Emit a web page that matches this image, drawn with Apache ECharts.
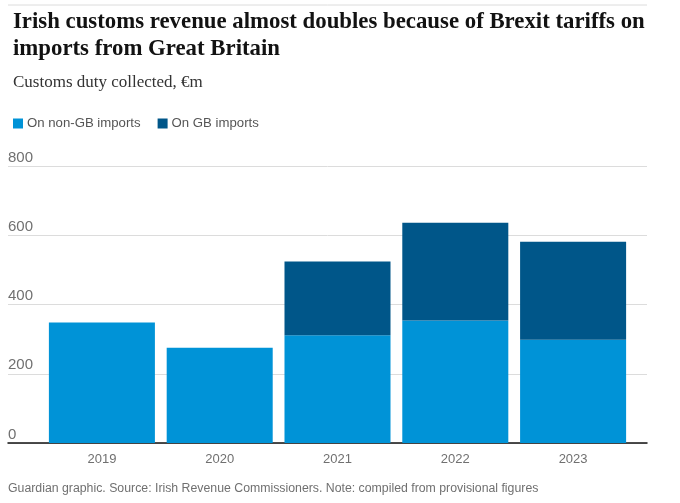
<!DOCTYPE html>
<html>
<head>
<meta charset="utf-8">
<script src="https://cdn.jsdelivr.net/npm/echarts@6/dist/echarts.min.js"></script>
<style>
  html, body { margin: 0; padding: 0; background: #fff; }
  #main { width: 680px; height: 503px; }
</style>
</head>
<body>
<div id="main"></div>
<script>
// customs duty collected, €m
var years = ['2019', '2020', '2021', '2022', '2023'];
var nonGB = [348, 275, 311, 354, 298];
var gb = [0, 0, 213, 282, 283];
var yTicks = [0, 200, 400, 600, 800];

var lightBlue = '#0093d7';
var darkBlue = '#005689';
var grey = '#707070';
var sans = '"Liberation Sans", "Open Sans", sans-serif';

var chart = echarts.init(document.getElementById('main'));

var option = {
  animation: false,
  title: [
    {
      text: 'Irish customs revenue almost doubles because of Brexit tariffs on\nimports from Great Britain',
      left: 8,
      top: 4,
      textStyle: {
        fontFamily: '"Liberation Serif", "DejaVu Serif", serif',
        fontWeight: 'bold',
        fontSize: 22.8,
        lineHeight: 27,
        color: '#121212'
      }
    },
    {
      text: 'Customs duty collected, €m',
      left: 8,
      top: 69,
      textStyle: {
        fontFamily: '"Liberation Serif", "DejaVu Serif", serif',
        fontWeight: 'normal',
        fontSize: 17,
        color: '#333'
      }
    }
  ],
  legend: {
    left: 8,
    top: 112,
    icon: 'rect',
    itemWidth: 10,
    itemHeight: 10,
    itemGap: 17,
    textStyle: { fontFamily: sans, fontSize: 13.2, color: '#555', padding: [0, 0, 0, -1] },
    data: ['On non-GB imports', 'On GB imports']
  },
  grid: [
    // wide grid only for the gridlines and y labels
    { left: 8, right: 33, top: 166, bottom: 60 },
    // inset grid holding the bars
    { left: 43, right: 48, top: 166, bottom: 60 }
  ],
  xAxis: [
    {
      gridIndex: 0,
      type: 'category',
      data: [''],
      axisLine: { show: true, lineStyle: { color: '#121212', width: 1.5 } },
      axisTick: { show: false },
      axisLabel: { show: false }
    },
    {
      gridIndex: 1,
      type: 'category',
      data: years,
      axisLine: { show: false },
      axisTick: { show: false },
      axisLabel: { fontFamily: sans, fontSize: 13, color: grey, margin: 10 }
    }
  ],
  yAxis: [
    {
      gridIndex: 0,
      type: 'value',
      min: 0,
      max: 800,
      interval: 200,
      axisLine: { show: false },
      axisTick: { show: false },
      splitLine: { lineStyle: { color: '#dcdcdc', width: 1 } },
      axisLabel: {
        inside: true,
        fontFamily: sans,
        fontSize: 15,
        color: grey,
        verticalAlign: 'bottom',
        margin: 0,
        padding: [0, 0, 1, 0],
        formatter: function (v) { return yTicks.indexOf(v) >= 0 ? String(v) : ''; }
      }
    },
    {
      gridIndex: 1,
      type: 'value',
      min: 0,
      max: 800,
      interval: 200,
      show: false,
      splitLine: { show: false }
    }
  ],
  series: [
    {
      name: 'On non-GB imports',
      type: 'bar',
      stack: 'total',
      xAxisIndex: 1,
      yAxisIndex: 1,
      barCategoryGap: '10%',
      itemStyle: { color: lightBlue },
      data: nonGB
    },
    {
      name: 'On GB imports',
      type: 'bar',
      stack: 'total',
      xAxisIndex: 1,
      yAxisIndex: 1,
      barCategoryGap: '10%',
      itemStyle: { color: darkBlue },
      data: gb
    }
  ],
  graphic: [
    {
      type: 'line',
      shape: { x1: 8, y1: 5, x2: 647, y2: 5 },
      style: { stroke: '#dcdcdc', lineWidth: 1 }
    },
    {
      type: 'text',
      left: 8,
      top: 483,
      style: {
        text: 'Guardian graphic. Source: Irish Revenue Commissioners. Note: compiled from provisional figures',
        fontFamily: sans,
        fontSize: 12.3,
        fill: grey
      }
    }
  ]
};

chart.setOption(option);
</script>
</body>
</html>
